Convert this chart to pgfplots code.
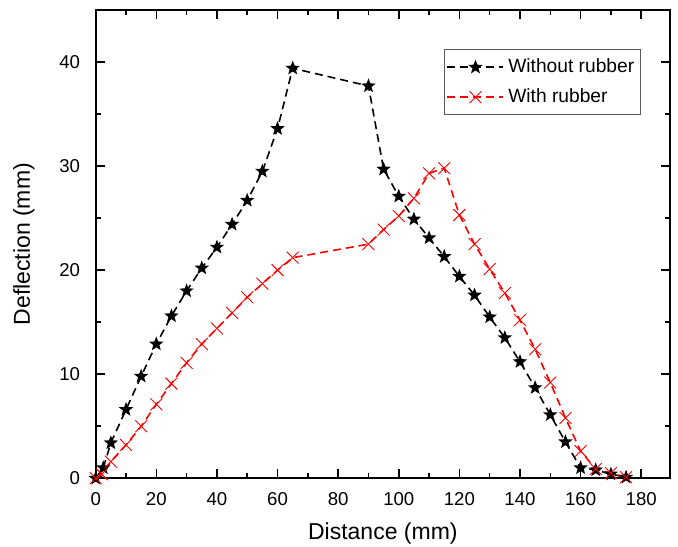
\documentclass[border=0pt]{standalone}
\usepackage{fontspec}
\setmainfont{Liberation Sans}
\usepackage{pgfplots}
\pgfplotsset{compat=1.18}

% filled five-pointed star
\pgfdeclareplotmark{fstar}{%
  \pgfpathmoveto{\pgfpointpolar{90}{\pgfplotmarksize}}%
  \pgfpathlineto{\pgfpointpolar{126}{0.42\pgfplotmarksize}}%
  \pgfpathlineto{\pgfpointpolar{162}{\pgfplotmarksize}}%
  \pgfpathlineto{\pgfpointpolar{198}{0.42\pgfplotmarksize}}%
  \pgfpathlineto{\pgfpointpolar{234}{\pgfplotmarksize}}%
  \pgfpathlineto{\pgfpointpolar{270}{0.42\pgfplotmarksize}}%
  \pgfpathlineto{\pgfpointpolar{306}{\pgfplotmarksize}}%
  \pgfpathlineto{\pgfpointpolar{342}{0.42\pgfplotmarksize}}%
  \pgfpathlineto{\pgfpointpolar{18}{\pgfplotmarksize}}%
  \pgfpathlineto{\pgfpointpolar{54}{0.42\pgfplotmarksize}}%
  \pgfpathclose\pgfusepathqfill}

\pgfplotstableread{
x y
0 0
2.5 1.0
5 3.4
10 6.6
15 9.8
20 12.9
25 15.6
30 18.0
35 20.2
40 22.2
45 24.4
50 26.7
55 29.5
60 33.6
65 39.4
90 37.7
95 29.7
100 27.1
105 24.9
110 23.1
115 21.3
120 19.4
125 17.6
130 15.5
135 13.5
140 11.2
145 8.7
150 6.1
155 3.5
160 1.0
165 0.8
170 0.4
175 0.1
}\without

\pgfplotstableread{
x y
0 0
2 0.4
5 1.6
10 3.2
15 5.0
20 7.1
25 9.1
30 11.1
35 12.9
40 14.4
45 15.9
50 17.4
55 18.7
60 20.0
65 21.2
90 22.5
95 23.9
100 25.2
105 26.9
110 29.3
115 29.8
120 25.3
125 22.5
130 20.1
135 17.8
140 15.2
145 12.4
150 9.2
155 5.8
160 2.6
165 0.9
170 0.5
175 0.1
}\withr

\begin{document}
\begin{tikzpicture}
\begin{axis}[
  scale only axis, width=287.15pt, height=234.15pt,
  xmin=0, xmax=189.5, ymin=0, ymax=45,
  xtick={0,20,...,180}, ytick={0,10,...,40},
  minor x tick num=1, minor y tick num=1,
  tick align=inside, major tick length=4.5pt, minor tick length=2.5pt,
  every tick/.style={black, line width=0.8pt},
  axis line style={line width=1pt},
  /pgf/number format/assume math mode=true,
  ticklabel style={font=\fontsize{9.3}{10}\selectfont},
  xticklabel style={yshift=-3.8pt},
  yticklabel style={xshift=-4.3pt},
  xlabel={Distance (mm)}, ylabel={Deflection (mm)},
  label style={font=\fontsize{11.5}{13}\selectfont},
  xlabel style={at={(axis description cs:0.5,0)}, anchor=base, yshift=-30.5pt},
  ylabel style={at={(axis description cs:-0.1249,0.5)}, anchor=center},
  legend style={at={(0.949,0.916)}, anchor=north east, draw=gray!70!black, line width=0.5pt,
    font=\fontsize{9.6}{11}\selectfont, inner xsep=1pt, inner ysep=2.5pt, row sep=2.5pt},
  legend cell align=left,
  legend image code/.code={\draw[mark repeat=2,mark phase=2] plot coordinates {(0pt,0pt) (14pt,0pt) (28pt,0pt)};},
]
\addplot[black, line width=0.8pt, dash pattern=on 4pt off 2.5pt, mark=fstar, mark size=3.8pt, mark options={solid}] table[x=x,y=y] {\without};
\addlegendentry{Without rubber}
\addplot[red, line width=0.8pt, dash pattern=on 4pt off 2.5pt, mark=x, mark size=4.2pt, mark options={solid, line width=0.45pt}] table[x=x,y=y] {\withr};
\addlegendentry{With rubber}
\coordinate (sw) at (rel axis cs:0,0);
\coordinate (ne) at (rel axis cs:1,1);
\end{axis}
\pgfresetboundingbox
\path ([shift={(-47.85pt,-34.35pt)}]sw) rectangle ([shift={(4pt,5pt)}]ne);
\end{tikzpicture}
\end{document}
